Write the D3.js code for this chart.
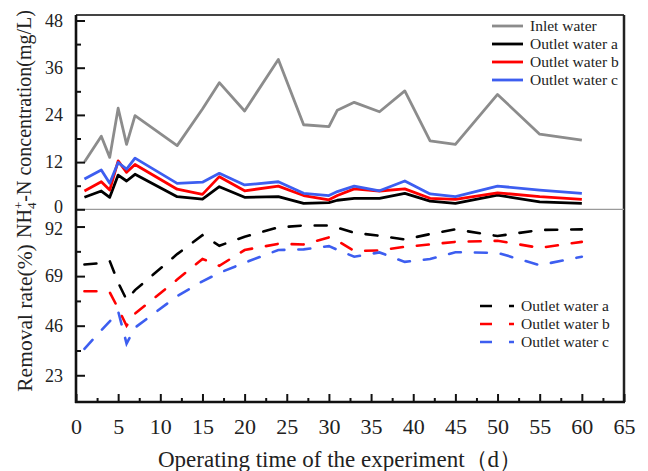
<!DOCTYPE html>
<html><head><meta charset="utf-8">
<script src="https://cdn.jsdelivr.net/npm/d3@7"></script>
<style>body{margin:0;background:#fff}svg{display:block}
svg text{font-family:"Liberation Serif","Times New Roman",Tinos,"DejaVu Serif","Noto Serif",serif !important;}</style>
</head><body>
<svg id="c" width="648" height="471"></svg>
<script>
// ---- data ----
const days    = [1,3,4,5,6,7,12,15,17,20,24,27,30,31,33,36,39,42,45,50,55,60];
const inlet   = [12,18.6,13.2,25.7,16.5,23.8,16.2,25.5,32.2,25,38.1,21.5,21,25.2,27.2,24.8,30.1,17.4,16.5,29.2,19.1,17.6];
const outletA = [3.05,4.65,3.05,8.7,7.2,8.9,3.2,2.6,5.75,3.05,3.2,1.5,1.7,2.3,2.8,2.8,4.07,2.1,1.5,3.6,1.9,1.5];
const outletB = [4.65,7.0,4.9,12.3,9.4,11.4,5.1,3.8,8.3,4.7,5.9,3.5,2.4,3.5,5.2,4.65,5.2,2.8,2.5,4.2,3.2,2.5];
const outletC = [7.7,10.0,6.6,11.9,10.2,13.0,6.6,6.9,9.15,6.2,7.0,4.07,3.5,4.5,5.9,4.7,7.2,3.9,3.2,5.9,4.9,4.07];
const remA = [74.4,75,76,66,58,62.5,79.2,88,83.1,87.3,91.6,92.5,92.5,91.5,89.1,87.7,86,88.5,90.7,87.6,90.4,90.7];
const remB = [62,62,61.5,54,46,51.6,67.4,77,73.8,81.1,84,83.7,87,85.4,80.7,80.9,82.6,83.7,84.9,85.4,82.1,84.9];
const remC = [35.3,43.9,48,52.7,37.7,45.1,59.7,66.6,70.5,75.2,81.1,81.4,82.9,81.2,78,80,75.6,76.9,80.1,79.8,74.1,78];
const xTicks = [0,5,10,15,20,25,30,35,40,45,50,55,60,65];
const topTicks = [0,12,24,36,48];
const botTicks = [23,46,69,92];
const topNames = ["Inlet water","Outlet water a","Outlet water b","Outlet water c"];
const botNames = ["Outlet water a","Outlet water b","Outlet water c"];
const colors = ["#8c8c8c","#000000","#ff0000","#3d5ef0"];

// ---- layout ----
const L = 76, R = 624, T = 15, MID = 209.3, B = 402;
const svg = d3.select("#c");
const font = "Liberation Serif";
const x = d3.scaleLinear().domain([0,65]).range([L,R]);
const yT = d3.scaleLinear().domain([0,49.4]).range([MID,T]);
const yB = d3.scaleLinear().domain([10.6,100]).range([B,MID]);

// frame
svg.append("line").attr("x1",L).attr("x2",R).attr("y1",T).attr("y2",T).attr("stroke","#444").attr("stroke-width",2);
svg.append("line").attr("x1",R).attr("x2",R).attr("y1",T).attr("y2",B).attr("stroke","#222").attr("stroke-width",2.5);
svg.append("line").attr("x1",L).attr("x2",R).attr("y1",MID).attr("y2",MID).attr("stroke","#9a9a9a").attr("stroke-width",1.2);

// series top
const lineT = d3.line().x((d,i)=>x(days[i])).y(d=>yT(d));
[inlet,outletA,outletB,outletC].forEach((s,k)=>{
  svg.append("path").attr("d",lineT(s)).attr("fill","none").attr("stroke",colors[k]).attr("stroke-width",2.8).attr("stroke-linejoin","round");
});
// series bottom
const lineB = d3.line().x((d,i)=>x(days[i])).y(d=>yB(d));
[remA,remB,remC].forEach((s,k)=>{
  svg.append("path").attr("d",lineB(s)).attr("fill","none").attr("stroke",colors[k+1]).attr("stroke-width",2.6)
    .attr("stroke-dasharray","12,14").attr("stroke-linecap","round");
});

// axes
function styleAxis(g, size){
  g.attr("font-family",font);
  g.select(".domain").remove();
  g.selectAll(".tick line").attr("stroke","#111").attr("stroke-width",2);
  g.selectAll("text").attr("font-size",size).attr("fill","#222");
}
const gT = svg.append("g").attr("transform",`translate(${L},0)`)
  .call(d3.axisLeft(yT).tickValues(topTicks).tickSize(-9).tickPadding(13).tickFormat(d3.format("d")));
styleAxis(gT,18);
gT.selectAll(".tick text").filter(d=>d===0).attr("dy","0.2em");
const gTm = svg.append("g").attr("transform",`translate(${L},0)`)
  .call(d3.axisLeft(yT).tickValues([6,18,30,42]).tickSize(-5).tickFormat(""));
styleAxis(gTm,18);
const gB = svg.append("g").attr("transform",`translate(${L},0)`)
  .call(d3.axisLeft(yB).tickValues(botTicks).tickSize(-9).tickPadding(13).tickFormat(d3.format("d")));
styleAxis(gB,18);
gB.selectAll(".tick text").filter(d=>d===92).attr("dy","0.42em");
const gBm = svg.append("g").attr("transform",`translate(${L},0)`)
  .call(d3.axisLeft(yB).tickValues([34.5,57.5,80.5]).tickSize(-5).tickFormat(""));
styleAxis(gBm,18);
const gX = svg.append("g").attr("transform",`translate(0,${B})`)
  .call(d3.axisBottom(x).tickValues(xTicks).tickSize(-8).tickPadding(16).tickFormat(d3.format("d")));
styleAxis(gX,22);
const gXm = svg.append("g").attr("transform",`translate(0,${B})`)
  .call(d3.axisBottom(x).tickValues(xTicks.slice(0,-1).map(v=>v+2.5)).tickSize(-4).tickFormat(""));
styleAxis(gXm,22);

// axis lines
svg.append("line").attr("x1",L).attr("x2",L).attr("y1",T).attr("y2",B+1).attr("stroke","#111").attr("stroke-width",2.6);
svg.append("line").attr("x1",L-1).attr("x2",R+1).attr("y1",B).attr("y2",B).attr("stroke","#111").attr("stroke-width",2.6);

// titles
const t1 = svg.append("text").attr("transform","translate(31,124) rotate(-90)").attr("text-anchor","middle")
  .attr("font-family",font).attr("font-size",20).attr("fill","#222");
t1.append("tspan").text("NH");
t1.append("tspan").attr("font-size",13).attr("dy",5).text("4");
t1.append("tspan").attr("font-size",13).attr("dx",-6.5).attr("dy",-13).text("+");
t1.append("tspan").attr("dy",8).text("-N concentration(mg/L)");
svg.append("text").attr("transform","translate(32,318) rotate(-90)").attr("text-anchor","middle")
  .attr("font-family",font).attr("font-size",21.5).attr("fill","#222").text("Removal rate(%)");
svg.append("text").attr("x",340).attr("y",467).attr("text-anchor","middle")
  .attr("font-family",font).attr("font-size",23).attr("fill","#222").text("Operating time of the experiment（d）");

// top legend
topNames.forEach((n,i)=>{
  const yy = 26 + i*18;
  svg.append("line").attr("x1",492).attr("x2",523).attr("y1",yy).attr("y2",yy).attr("stroke",colors[i]).attr("stroke-width",2.8);
  svg.append("text").attr("x",530).attr("y",yy+5).attr("font-family",font).attr("font-size",15.5).attr("fill","#222").text(n);
});
// bottom legend
botNames.forEach((n,i)=>{
  const yy = 306 + i*18;
  svg.append("line").attr("x1",480).attr("x2",514).attr("y1",yy).attr("y2",yy).attr("stroke",colors[i+1]).attr("stroke-width",2.6)
    .attr("stroke-dasharray","12,17,5,50");
  svg.append("text").attr("x",521).attr("y",yy+5).attr("font-family",font).attr("font-size",15.5).attr("fill","#222").text(n);
});
</script>
</body></html>
